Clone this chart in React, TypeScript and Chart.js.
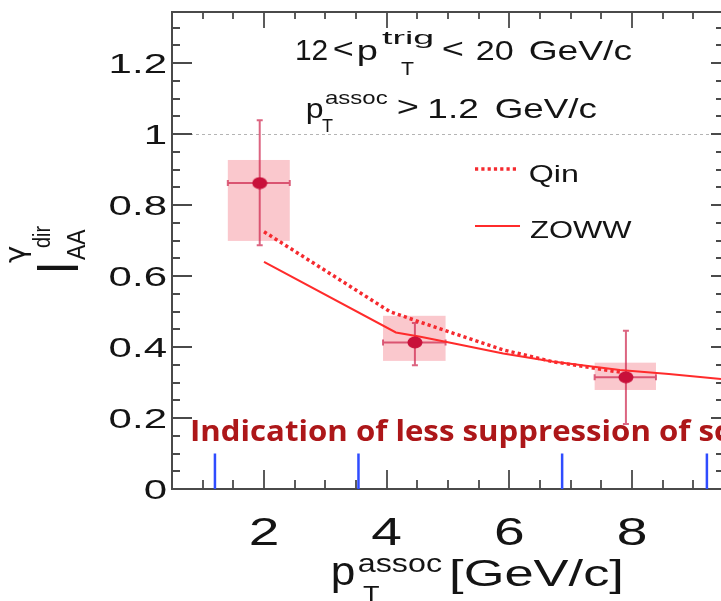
import React, { useEffect, useRef } from 'react';
import { Chart, registerables } from 'chart.js';

Chart.register(...registerables);

// ---- measured data (I_AA of direct-photon triggered yields) ----
const measX = [1.93, 4.46, 7.9];
const measY = [0.862, 0.413, 0.315];
const binLo = [1.41, 3.94, 7.39];
const binHi = [2.42, 4.96, 8.39];
const statLo = [0.687, 0.349, 0.183];
const statHi = [1.039, 0.468, 0.446];
const sysLo = [0.699, 0.361, 0.279];
const sysHi = [0.927, 0.488, 0.356];

// ---- model curves ----
const qinX = [2.0, 4.05, 4.6, 5.1, 5.9, 6.7, 7.4, 7.85];
const qinY = [0.725, 0.5, 0.467, 0.438, 0.392, 0.359, 0.34, 0.328];
const zowwX = [2.0, 4.15, 4.55, 5.1, 5.9, 6.7, 7.8, 8.6, 9.45];
const zowwY = [0.64, 0.441, 0.429, 0.41, 0.382, 0.359, 0.335, 0.324, 0.31];

// ---- blue bin markers along the bottom ----
const binMarkX = [1.2, 3.54, 6.86, 9.22];
const binMarkTop = [0.1, 0.1, 0.1, 0.1];

// ---- ticks ----
const xTickValues = [2, 4, 6, 8];
const xTickLabels = ['2', '4', '6', '8'];
const yTickValues = [0, 0.2, 0.4, 0.6, 0.8, 1, 1.2];
const yTickLabels = ['0', '0.2', '0.4', '0.6', '0.8', '1', '1.2'];
const unityValue = [1];

const X_MIN = 0.5;
const X_MAX = 9.45;
const Y_MIN = 0;
const Y_MAX = 1.344;

const F = '"Liberation Sans", Arial, Helvetica, sans-serif';

// draw text so that its ink spans [left, right]
function fit(ctx: CanvasRenderingContext2D, s: string, left: number, right: number, base: number, size: number, color = '#141414') {
  ctx.save();
  ctx.font = `${size}px ${F}`;
  ctx.textAlign = 'left';
  ctx.textBaseline = 'alphabetic';
  const m = ctx.measureText(s);
  const inkW = m.actualBoundingBoxLeft + m.actualBoundingBoxRight;
  const sx = (right - left) / (inkW > 0 ? inkW : m.width);
  ctx.translate(left + m.actualBoundingBoxLeft * sx, base);
  ctx.scale(sx, 1);
  ctx.fillStyle = color;
  ctx.fillText(s, 0, 0);
  ctx.restore();
}

function stretched(ctx: CanvasRenderingContext2D, s: string, x: number, base: number, size: number, sx: number, align: CanvasTextAlign, color = '#141414') {
  ctx.save();
  ctx.font = `${size}px ${F}`;
  ctx.translate(x, base);
  ctx.scale(sx, 1);
  ctx.fillStyle = color;
  ctx.textAlign = align;
  ctx.textBaseline = 'alphabetic';
  ctx.fillText(s, 0, 0);
  ctx.restore();
}

const decor = {
  id: 'decor',
  beforeDatasetsDraw(chart: any) {
    const ctx: CanvasRenderingContext2D = chart.ctx;
    const xs = chart.scales.x;
    const ys = chart.scales.y;
    const { left, right } = chart.chartArea;
    ctx.save();
    // unity dashed line
    ctx.strokeStyle = '#b4b4b4';
    ctx.lineWidth = 1;
    ctx.setLineDash([3, 3]);
    unityValue.forEach((v) => {
      const py = Math.round(ys.getPixelForValue(v)) + 0.5;
      ctx.beginPath();
      ctx.moveTo(left, py);
      ctx.lineTo(right, py);
      ctx.stroke();
    });
    ctx.setLineDash([]);
    // systematic boxes
    ctx.fillStyle = 'rgba(246,150,160,0.52)';
    for (let i = 0; i < measX.length; i++) {
      const x0 = xs.getPixelForValue(binLo[i]);
      const x1 = xs.getPixelForValue(binHi[i]);
      const y0 = ys.getPixelForValue(sysHi[i]);
      const y1 = ys.getPixelForValue(sysLo[i]);
      ctx.fillRect(x0, y0, x1 - x0, y1 - y0);
    }
    // error bars
    ctx.strokeStyle = 'rgba(205,35,75,0.7)';
    ctx.lineWidth = 2;
    for (let i = 0; i < measX.length; i++) {
      const px = xs.getPixelForValue(measX[i]);
      const py = ys.getPixelForValue(measY[i]);
      const ya = ys.getPixelForValue(statHi[i]);
      const yb = ys.getPixelForValue(statLo[i]);
      const xa = xs.getPixelForValue(binLo[i]);
      const xb = xs.getPixelForValue(binHi[i]);
      ctx.beginPath();
      ctx.moveTo(px, ya); ctx.lineTo(px, yb);
      ctx.moveTo(xa, py); ctx.lineTo(xb, py);
      ctx.moveTo(px - 3, ya); ctx.lineTo(px + 3, ya);
      ctx.moveTo(px - 3, yb); ctx.lineTo(px + 3, yb);
      ctx.moveTo(xa, py - 3); ctx.lineTo(xa, py + 3);
      ctx.moveTo(xb, py - 3); ctx.lineTo(xb, py + 3);
      ctx.stroke();
    }
    ctx.restore();
  },
  afterDatasetsDraw(chart: any) {
    const ctx: CanvasRenderingContext2D = chart.ctx;
    const xs = chart.scales.x;
    const ys = chart.scales.y;
    const { left, right, top, bottom } = chart.chartArea;
    ctx.save();
    // frame
    ctx.strokeStyle = '#4a4a4a';
    ctx.lineWidth = 2;
    ctx.beginPath();
    ctx.moveTo(right, top); ctx.lineTo(left, top); ctx.lineTo(left, bottom); ctx.lineTo(right, bottom);
    ctx.stroke();
    // x ticks every 0.5, major every 2
    ctx.lineWidth = 1.8;
    ctx.beginPath();
    for (let k = Math.ceil(X_MIN * 2 + 0.01); k <= Math.floor(X_MAX * 2); k++) {
      const v = k / 2;
      const px = Math.round(xs.getPixelForValue(v));
      const major = k % 4 === 0;
      ctx.moveTo(px, bottom); ctx.lineTo(px, bottom - (major ? 19 : 9));
      ctx.moveTo(px, top); ctx.lineTo(px, top + (major ? 16 : 7));
    }
    // y ticks every 0.05, major every 0.2
    for (let k = 1; k * 0.05 <= Y_MAX + 1e-9; k++) {
      const v = k * 0.05;
      const py = Math.round(ys.getPixelForValue(v));
      const major = k % 4 === 0;
      ctx.moveTo(left, py); ctx.lineTo(left + (major ? 20 : 8), py);
      ctx.moveTo(right, py); ctx.lineTo(right - (major ? 10 : 5), py);
    }
    ctx.stroke();

    // blue bin markers
    ctx.strokeStyle = '#2f4cff';
    ctx.lineWidth = 2.5;
    ctx.beginPath();
    binMarkX.forEach((v, i) => {
      const px = xs.getPixelForValue(v);
      ctx.moveTo(px, ys.getPixelForValue(0));
      ctx.lineTo(px, ys.getPixelForValue(binMarkTop[i]));
    });
    ctx.stroke();

    // tick labels
    yTickValues.forEach((v, i) => {
      const py = ys.getPixelForValue(v);
      stretched(ctx, yTickLabels[i], 167, py + 10, 28, 1.5, 'right');
    });
    xTickValues.forEach((v, i) => {
      const px = xs.getPixelForValue(v);
      stretched(ctx, xTickLabels[i], px, 545, 38, 1.45, 'center');
    });

    // x axis title: p_T^assoc [GeV/c]
    fit(ctx, 'p', 333, 354, 585, 40);
    fit(ctx, 'assoc', 359, 442, 572, 26);
    fit(ctx, 'T', 363, 379, 601, 22);
    fit(ctx, '[GeV/c]', 452, 621, 586, 36);

    // y axis title: I_AA^{gamma_dir} (rotated)
    ctx.save();
    ctx.translate(78, 274);
    ctx.rotate(-Math.PI / 2);
    ctx.fillStyle = '#141414';
    ctx.textBaseline = 'alphabetic';
    ctx.textAlign = 'left';
    ctx.save(); ctx.scale(1, 1.36); ctx.font = `44px ${F}`; ctx.fillText('I', 0, 0); ctx.restore();
    ctx.save(); ctx.translate(14, 7); ctx.scale(1, 1.09); ctx.font = `23px ${F}`; ctx.fillText('AA', 0, 0); ctx.restore();
    ctx.save(); ctx.translate(11, -53); ctx.scale(1.05, 1.0); ctx.font = `28px "DejaVu Sans", sans-serif`; ctx.fillText('γ', 0, 0); ctx.restore();
    ctx.save(); ctx.translate(26, -28); ctx.scale(1, 1.23); ctx.font = `20px ${F}`; ctx.fillText('dir', 0, 0); ctx.restore();
    ctx.restore();

    // top-right texts
    fit(ctx, '12', 297, 327, 60, 29);
    fit(ctx, '<', 334, 352, 58, 28);
    fit(ctx, 'p', 358, 377, 60, 28);
    fit(ctx, 'trig', 382, 433, 44, 19);
    fit(ctx, 'T', 401, 414, 75, 18);
    fit(ctx, '<', 443, 462, 58, 28);
    fit(ctx, '20', 477, 513, 60, 28);
    fit(ctx, 'GeV/c', 530, 632, 60, 28);

    fit(ctx, 'p', 307, 323, 118, 28);
    fit(ctx, 'assoc', 325, 387, 104, 19);
    fit(ctx, 'T', 322, 333, 132, 18);
    fit(ctx, '>', 398, 417, 116, 28);
    fit(ctx, '1.2', 430, 478, 118, 28);
    fit(ctx, 'GeV/c', 496, 597, 118, 28);

    // legend
    ctx.strokeStyle = '#f52a2f';
    ctx.lineWidth = 3.5;
    ctx.setLineDash([3.2, 3.1]);
    ctx.beginPath(); ctx.moveTo(475, 169); ctx.lineTo(516, 169); ctx.stroke();
    ctx.setLineDash([]);
    ctx.strokeStyle = '#ff2b2b';
    ctx.lineWidth = 2;
    ctx.beginPath(); ctx.moveTo(475, 226); ctx.lineTo(520, 226); ctx.stroke();
    fit(ctx, 'Qin', 530, 577, 182, 24);
    fit(ctx, 'ZOWW', 530, 632, 238, 24);

    // overlay annotation
    ctx.save();
    ctx.font = `bold 29px "Open Sans", "DejaVu Sans", sans-serif`;
    const full = 'Indication of less suppression of sc';
    const wPart = ctx.measureText('Indication of less suppression of s').width;
    const sx = (714 - 190) / wPart;
    ctx.translate(190, 441);
    ctx.scale(sx, 1);
    ctx.fillStyle = '#ad1719';
    ctx.textAlign = 'left';
    ctx.textBaseline = 'alphabetic';
    ctx.fillText(full, 0, 0);
    ctx.restore();

    ctx.restore();
  },
};

export default function App() {
  const ref = useRef<HTMLCanvasElement | null>(null);
  useEffect(() => {
    document.body.style.margin = '0';
    document.body.style.overflow = 'hidden';
    const canvas = ref.current;
    if (!canvas) return;
    const marker = document.createElement('canvas');
    marker.width = 16;
    marker.height = 13;
    const mc = marker.getContext('2d');
    if (mc) {
      mc.fillStyle = '#c8103a';
      mc.beginPath();
      mc.ellipse(8, 6.5, 7.5, 6, 0, 0, Math.PI * 2);
      mc.fill();
    }
    const chart = new Chart(canvas, {
      type: 'scatter',
      data: {
        datasets: [
          {
            label: 'Qin',
            data: qinX.map((x, i) => ({ x, y: qinY[i] })),
            showLine: true,
            borderColor: '#f52a2f',
            borderWidth: 3.5,
            borderDash: [3.2, 3.1],
            pointRadius: 0,
            fill: false,
            order: 2,
          },
          {
            label: 'ZOWW',
            data: zowwX.map((x, i) => ({ x, y: zowwY[i] })),
            showLine: true,
            borderColor: '#ff2b2b',
            borderWidth: 2,
            pointRadius: 0,
            fill: false,
            order: 1,
          },
          {
            label: 'data',
            data: measX.map((x, i) => ({ x, y: measY[i] })),
            showLine: false,
            pointStyle: marker as any,
            pointRadius: 7,
            order: 0,
          },
        ],
      },
      options: {
        responsive: false,
        animation: false,
        devicePixelRatio: 1,
        events: [],
        layout: { autoPadding: false, padding: { left: 172, right: 0, top: 12, bottom: 112 } },
        scales: {
          x: { type: 'linear', min: X_MIN, max: X_MAX, display: false },
          y: { type: 'linear', min: Y_MIN, max: Y_MAX, display: false },
        },
        plugins: { legend: { display: false }, tooltip: { enabled: false } },
      },
      plugins: [decor],
    });
    return () => chart.destroy();
  }, []);
  return <canvas ref={ref} width={721} height={601} style={{ display: 'block' }} />;
}
